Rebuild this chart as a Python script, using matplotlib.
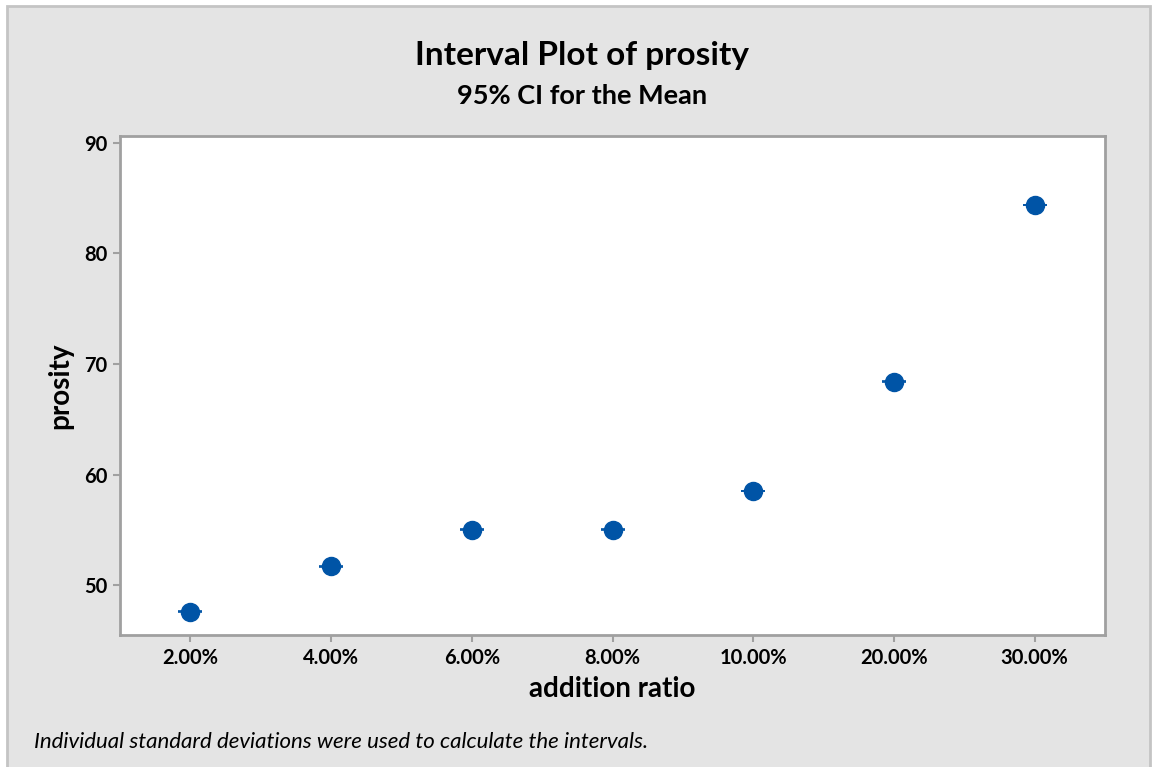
import matplotlib.pyplot as plt
from matplotlib.patches import Rectangle

# prosity means and 95% CI half-widths per addition ratio
ratios = ["2.00%", "4.00%", "6.00%", "8.00%", "10.00%", "20.00%", "30.00%"]
means = [47.6, 51.7, 55.0, 55.0, 58.5, 68.4, 84.4]
ci_half = [0.03, 0.03, 0.03, 0.03, 0.03, 0.03, 0.03]

plt.rcParams["font.family"] = ["Lato", "DejaVu Sans"]

fig = plt.figure(figsize=(11.52, 7.67), dpi=100, facecolor="white")
fig.patches.append(Rectangle((0.006, -0.01), 0.992, 1.002, transform=fig.transFigure,
                             facecolor="#e4e4e4", edgecolor="#c4c4c4", linewidth=2, zorder=-1))

ax = fig.add_axes([120 / 1152, 1 - 635 / 767, 985 / 1152, 499 / 767])
ax.set_facecolor("white")

x = list(range(len(ratios)))
ax.errorbar(x, means, yerr=ci_half, fmt="o", color="#0054a6", ecolor="#0054a6",
            markersize=13, capsize=8.5, elinewidth=1, capthick=1.2)

ax.set_xlim(-0.5, 6.5)
ax.set_ylim(45.48, 90.63)
ax.set_xticks(x)
ax.set_xticklabels(ratios)
ax.set_yticks([50, 60, 70, 80, 90])

for s in ax.spines.values():
    s.set_color("#a0a0a0")
    s.set_linewidth(2)
ax.tick_params(colors="#a0a0a0", labelcolor="black", length=5, width=1.5,
               labelsize=14.5, pad=4)
for lbl in ax.get_xticklabels() + ax.get_yticklabels():
    lbl.set_fontweight("bold")

ax.set_xlabel("addition ratio", fontsize=20, fontweight="bold", labelpad=6)
ax.set_ylabel("prosity", fontsize=20, fontweight="bold", labelpad=8)

fig.text(0.505, 1 - 56 / 767, "Interval Plot of prosity", ha="center", va="center",
         fontsize=24, fontweight="bold")
fig.text(0.505, 1 - 96 / 767, "95% CI for the Mean", ha="center", va="center",
         fontsize=19.5, fontweight="bold")
fig.text(34 / 1152, 1 - 742 / 767,
         "Individual standard deviations were used to calculate the intervals.",
         ha="left", va="center", fontsize=16, style="italic")

fig.savefig("out.png", dpi=100, facecolor="white")
